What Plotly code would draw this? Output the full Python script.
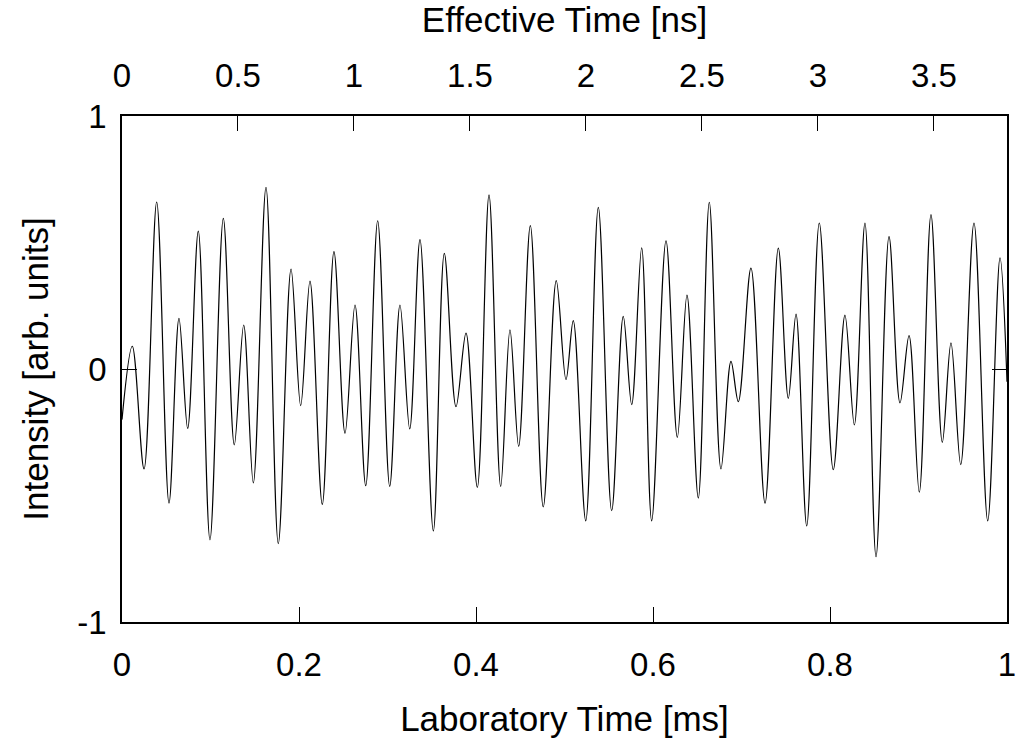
import plotly.graph_objects as go

# Laboratory time [ms] of the waveform's turning points
lab_time_ms = [
    0.0, 0.0116, 0.0249, 0.0392, 0.0531, 0.0644, 0.0742, 0.0862, 0.0994, 0.1145,
    0.1269, 0.1375, 0.1484, 0.1627, 0.1766, 0.1910, 0.2019, 0.2124, 0.2263, 0.2395,
    0.2520, 0.2633, 0.2754, 0.2889, 0.3025, 0.3141, 0.3251, 0.3367, 0.3518, 0.3642,
    0.3774, 0.3887, 0.4015, 0.4147, 0.4279, 0.4384, 0.4482, 0.4614, 0.4760, 0.4907,
    0.5017, 0.5099, 0.5240, 0.5382, 0.5533, 0.5664, 0.5759, 0.5872, 0.5985, 0.6147,
    0.6275, 0.6384, 0.6512, 0.6636, 0.6768, 0.6881, 0.6964, 0.7107, 0.7266, 0.7416,
    0.7529, 0.7616, 0.7737, 0.7879, 0.8037, 0.8169, 0.8275, 0.8395, 0.8520, 0.8667,
    0.8791, 0.8893, 0.9009, 0.9141, 0.9269, 0.9367, 0.9477, 0.9627, 0.9782, 0.9921,
    1.0,
]
# Intensity [arb. units] at those points
intensity = [
    -0.20, 0.09, -0.395, 0.66, -0.53, 0.20, -0.235, 0.545, -0.675, 0.595,
    -0.30, 0.174, -0.45, 0.718, -0.69, 0.395, -0.145, 0.347, -0.535, 0.464,
    -0.254, 0.253, -0.461, 0.586, -0.464, 0.253, -0.237, 0.511, -0.64, 0.457,
    -0.149, 0.142, -0.468, 0.688, -0.464, 0.155, -0.306, 0.567, -0.545, 0.349,
    -0.042, 0.191, -0.60, 0.639, -0.56, 0.208, -0.141, 0.479, -0.60, 0.507,
    -0.27, 0.292, -0.51, 0.659, -0.395, 0.030, -0.129, 0.399, -0.53, 0.478,
    -0.116, 0.217, -0.62, 0.577, -0.398, 0.213, -0.221, 0.577, -0.742, 0.523,
    -0.134, 0.132, -0.487, 0.61, -0.29, 0.103, -0.378, 0.577, -0.60, 0.439,
    -0.05,
]

lab_ticks = [0, 0.2, 0.4, 0.6, 0.8, 1]
lab_ticktext = ["0", "0.2", "0.4", "0.6", "0.8", "1"]
eff_ticks = [0, 0.5, 1, 1.5, 2, 2.5, 3, 3.5]
eff_ticktext = ["0", "0.5", "1", "1.5", "2", "2.5", "3", "3.5"]
eff_max_ns = 3.815
y_ticks = [-1, 0, 1]
y_ticktext = ["-1", "0", "1"]

FONT = "Liberation Sans, Arial, sans-serif"
TICKFONT = dict(family=FONT, size=33, color="black")
TITLEFONT = dict(family=FONT, size=35, color="black")

fig = go.Figure()
fig.add_trace(go.Scatter(
    x=lab_time_ms, y=intensity, mode="lines",
    line=dict(color="black", width=1.2, shape="spline", smoothing=1.0),
    hoverinfo="skip", showlegend=False,
))
# invisible trace to activate the top axis
fig.add_trace(go.Scatter(
    x=[0, eff_max_ns], y=[None, None], xaxis="x2", yaxis="y",
    mode="lines", showlegend=False, hoverinfo="skip",
))

fig.update_layout(
    width=1019, height=744,
    margin=dict(l=122, r=12, t=116, b=122),
    paper_bgcolor="white", plot_bgcolor="white",
    font=dict(family=FONT, color="black"),
    xaxis=dict(
        range=[0, 1], tickmode="array", tickvals=lab_ticks, ticktext=lab_ticktext,
        ticks="inside", ticklen=15, tickwidth=1, tickcolor="black",
        showline=True, linecolor="black", linewidth=1.5, mirror=False,
        showgrid=False, zeroline=False, tickfont=TICKFONT, ticklabelstandoff=13,
        automargin=False,
        title=dict(text="Laboratory Time [ms]", font=TITLEFONT, standoff=24),
    ),
    xaxis2=dict(
        overlaying="x", side="top", anchor="y",
        range=[0, eff_max_ns], tickmode="array", tickvals=eff_ticks, ticktext=eff_ticktext,
        ticks="inside", ticklen=15, tickwidth=1, tickcolor="black",
        showline=True, linecolor="black", linewidth=1.5,
        showgrid=False, zeroline=False, tickfont=TICKFONT, ticklabelstandoff=14,
        automargin=False,
        title=dict(text="Effective Time [ns]", font=TITLEFONT, standoff=14),
    ),
    yaxis=dict(
        range=[-1, 1], tickmode="array", tickvals=y_ticks, ticktext=y_ticktext,
        ticks="inside", ticklen=15, tickwidth=1, tickcolor="black",
        showline=True, linecolor="black", linewidth=1.5, mirror="ticks",
        showgrid=False, zeroline=False, tickfont=TICKFONT, ticklabelstandoff=7,
        automargin=False,
        title=dict(text="Intensity [arb. units]", font=TITLEFONT, standoff=18),
    ),
)

fig.write_html("out.html")
